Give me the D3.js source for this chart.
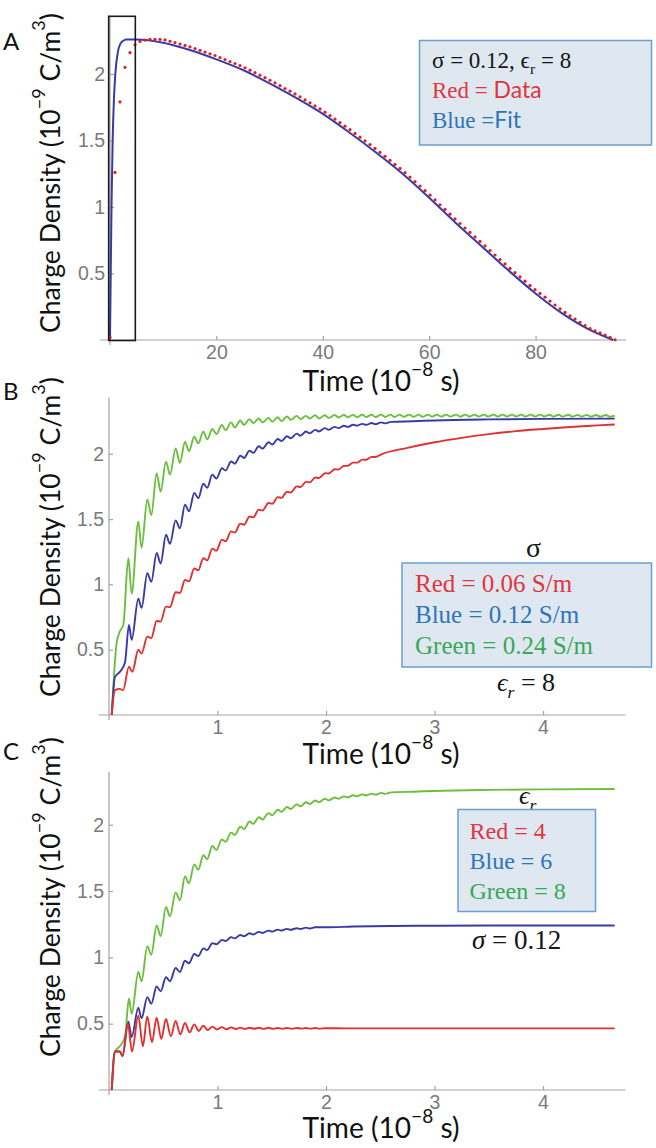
<!DOCTYPE html>
<html><head><meta charset="utf-8">
<script src="https://cdn.jsdelivr.net/npm/d3@7"></script>
<style>body{margin:0;background:#fff}svg{display:block}</style>
</head><body><svg id="c" width="656" height="1148"></svg>
<script>
// ---------------- DATA ----------------
const tickA_x = [20, 40, 60, 80];
const tickA_y = [0.5, 1, 1.5, 2];
const tickBC_x = [1, 2, 3, 4];
const tickBC_y = [0.5, 1, 1.5, 2];

// Panel A: fit (blue line)
const fitA_t = [0, 0.15, 0.3, 0.5, 0.75, 1, 1.5, 2, 2.5, 3, 5, 10, 15, 20, 25, 30, 35, 40, 45, 50, 55, 60, 65, 70, 75, 80, 85, 90, 94.6];
const fitA_v = [0, 0.55, 1.05, 1.5, 1.82, 2.0, 2.17, 2.23, 2.25, 2.26, 2.26, 2.235, 2.18, 2.11, 2.03, 1.93, 1.82, 1.70, 1.56, 1.41, 1.25, 1.07, 0.88, 0.70, 0.52, 0.35, 0.20, 0.08, 0];
// Panel A: data (red dots), sampled every dataA_dt
const dataA_dt = 0.94;
const dataA_v = [0.02, 1.26, 1.79, 2.05, 2.16, 2.22, 2.245, 2.255, 2.26, 2.26, 2.26,
  2.256, 2.246, 2.236, 2.225, 2.215, 2.204, 2.191, 2.178, 2.165, 2.152, 2.139,
  2.124, 2.109, 2.094, 2.079, 2.064, 2.047, 2.029, 2.010, 1.991, 1.972,
  1.953, 1.933, 1.912, 1.891, 1.871, 1.850, 1.828, 1.805, 1.783, 1.760, 1.737,
  1.713, 1.687, 1.661, 1.634, 1.608, 1.581, 1.553, 1.525, 1.497, 1.469, 1.440,
  1.411, 1.381, 1.351, 1.320, 1.290, 1.258, 1.225, 1.191, 1.157, 1.123,
  1.089, 1.053, 1.017, 0.982, 0.946, 0.910, 0.876, 0.842, 0.809, 0.775, 0.741,
  0.707, 0.673, 0.639, 0.605, 0.572, 0.538, 0.506, 0.474, 0.442, 0.410, 0.378,
  0.350, 0.322, 0.293, 0.263, 0.234, 0.207, 0.182, 0.158, 0.133, 0.109, 0.086, 0.069, 0.053, 0.036, 0.020, 0.002];

// Panel B (eps_r = 8): [time, density]
const sigma024 = [[0.025,0],[0.07,0.55],[0.10,0.64],[0.132,0.69],[0.178,1.20],[0.209,0.93],[0.27,1.48],[0.30,1.28],[0.353,1.65],[0.39,1.53],[0.439,1.85],[0.476,1.71],[0.525,1.94],[0.562,1.84],[0.614,2.04],[0.654,1.93],[0.70,2.09],[0.737,2.02],[0.786,2.13],[0.823,2.08],[0.869,2.17],[0.905,2.11],[0.952,2.19],[0.99,2.15],[1.04,2.22],[1.075,2.18],[1.125,2.24],[1.16,2.20],[1.21,2.255],[1.245,2.22],[1.295,2.265],[1.33,2.235],[1.38,2.27],[1.415,2.24],[1.47,2.275],[1.505,2.245],[1.555,2.28],[1.59,2.25],[1.64,2.285],[1.675,2.26],[1.73,2.29],[1.765,2.265],[1.815,2.29],[1.85,2.27],[1.90,2.295],[1.935,2.27],[1.99,2.295],[2.025,2.275],[2.08,2.297],[2.115,2.278],
  [2.165,2.298],[2.2,2.28],[2.25,2.298],[2.285,2.28],[2.335,2.299],[2.37,2.281],[2.42,2.299],[2.455,2.281],[2.51,2.3],[2.545,2.282],[2.595,2.3],[2.63,2.282],[2.68,2.3],[2.715,2.283],[2.77,2.3],[2.805,2.283],[2.855,2.3],[2.89,2.283],[2.94,2.3],[2.975,2.284],[3.025,2.3],[3.06,2.284],[3.11,2.3],[3.145,2.284],[3.2,2.3],[3.235,2.284],[3.285,2.3],[3.32,2.285],[3.37,2.3],[3.405,2.285],[3.455,2.3],[3.49,2.285],[3.545,2.3],[3.58,2.285],[3.63,2.3],[3.665,2.285],[3.715,2.3],[3.75,2.285],[3.80,2.3],[3.835,2.285],[3.89,2.3],[3.925,2.285],[3.975,2.3],[4.01,2.285],[4.06,2.299],[4.095,2.284],[4.145,2.299],[4.18,2.284],[4.235,2.299],[4.27,2.284],[4.32,2.298],[4.355,2.284],[4.405,2.298],[4.44,2.284],[4.49,2.297],[4.525,2.283],[4.58,2.297],[4.615,2.283],[4.66,2.292]];
const sigma012 = [[0.025,0],[0.055,0.29],[0.10,0.33],[0.147,0.40],[0.184,0.69],[0.209,0.575],[0.27,0.89],[0.30,0.82],[0.353,1.085],[0.39,1.02],[0.439,1.24],[0.476,1.16],[0.525,1.38],[0.562,1.31],[0.614,1.49],[0.654,1.43],[0.70,1.61],[0.737,1.56],[0.786,1.70],[0.823,1.66],[0.869,1.77],[0.905,1.74],[0.952,1.84],[0.99,1.81],[1.04,1.889],[1.075,1.872],[1.125,1.941],[1.16,1.924],[1.21,1.985],[1.245,1.968],[1.295,2.024],[1.33,2.007],[1.38,2.057],[1.415,2.04],[1.47,2.088],[1.505,2.071],[1.555,2.113],[1.59,2.097],[1.64,2.134],[1.675,2.119],[1.73,2.154],[1.765,2.139],[1.815,2.17],[1.85,2.156],[1.90,2.183],[1.935,2.171],[1.99,2.196],[2.025,2.184],[2.08,2.206],[2.115,2.196],[2.165,2.214],[2.2,2.206],[2.25,2.222],[2.285,2.215],[2.335,2.229],[2.37,2.221],[2.42,2.235],[2.455,2.227],[2.51,2.24],[2.545,2.233],[2.6,2.244],[2.8,2.249],[3.0,2.255],[3.5,2.263],[4.0,2.267],[4.66,2.269]];
const sigma006 = [[0.025,0],[0.055,0.19],[0.10,0.20],[0.13,0.19],[0.184,0.37],[0.215,0.33],[0.27,0.50],[0.30,0.47],[0.353,0.60],[0.39,0.59],[0.439,0.72],[0.476,0.715],[0.525,0.83],[0.562,0.825],[0.614,0.94],[0.654,0.935],[0.70,1.034],[0.737,1.023],[0.786,1.122],[0.823,1.108],[0.869,1.2],[0.905,1.184],[0.952,1.274],[0.99,1.258],[1.04,1.343],[1.075,1.33],[1.125,1.406],[1.16,1.396],[1.21,1.465],[1.245,1.457],[1.295,1.52],[1.33,1.513],[1.38,1.572],[1.415,1.566],[1.47,1.623],[1.505,1.617],[1.555,1.668],[1.59,1.662],[1.64,1.709],[1.675,1.704],[1.73,1.75],[1.765,1.745],[1.815,1.785],[1.85,1.781],[1.90,1.818],[1.935,1.815],[1.99,1.851],[2.025,1.849],[2.08,1.881],[2.115,1.88],[2.165,1.907],[2.2,1.908],[2.25,1.932],[2.285,1.932],[2.335,1.955],[2.37,1.954],[2.42,1.976],[2.455,1.975],[2.51,1.996],[2.75,2.045],[3.0,2.088],[3.25,2.122],[3.5,2.15],[3.75,2.173],[4.0,2.19],[4.25,2.205],[4.5,2.217],[4.66,2.224]];

// Panel C (sigma = 0.12): eps_r = 8 is the same run as sigma012 above
const eps8 = sigma012;
const eps6 = [[0.025,0],[0.055,0.29],[0.10,0.29],[0.125,0.255],[0.178,0.515],[0.209,0.40],[0.27,0.62],[0.30,0.54],[0.353,0.70],[0.39,0.65],[0.439,0.78],[0.476,0.745],[0.525,0.85],[0.562,0.82],[0.614,0.92],[0.654,0.89],[0.70,0.975],[0.737,0.955],[0.786,1.025],[0.823,1.01],[0.869,1.068],[0.905,1.055],[0.952,1.107],[0.99,1.099],[1.04,1.132],[1.075,1.123],[1.125,1.153],[1.16,1.143],[1.21,1.169],[1.245,1.159],[1.295,1.182],[1.33,1.173],[1.38,1.192],[1.415,1.184],[1.47,1.202],[1.505,1.194],[1.555,1.209],[1.59,1.202],[1.64,1.215],[1.675,1.208],[1.73,1.22],[1.765,1.214],[1.815,1.224],[1.85,1.218],[1.90,1.227],[2.0,1.227],[2.25,1.233],[2.6,1.237],[3.0,1.239],[3.5,1.24],[4.0,1.24],[4.66,1.24]];
const eps4 = [[0.025,0],[0.055,0.29],[0.10,0.29],[0.125,0.26],[0.174,0.50],[0.212,0.29],[0.27,0.56],[0.312,0.33],[0.353,0.555],[0.396,0.36],[0.439,0.545],[0.482,0.385],[0.525,0.535],[0.57,0.405],[0.614,0.52],[0.657,0.42],[0.70,0.505],[0.743,0.435],[0.786,0.495],[0.828,0.445],[0.869,0.485],[0.91,0.452],[0.952,0.478],[0.996,0.456],[1.04,0.474],[1.083,0.458],[1.125,0.472],[1.168,0.46],[1.21,0.47],[1.253,0.461],[1.295,0.469],[1.34,0.462],[1.38,0.469],[1.425,0.461],[1.47,0.469],[1.51,0.461],[1.555,0.468],[1.6,0.462],[1.64,0.468],[1.685,0.462],[1.73,0.468],[1.77,0.463],[1.815,0.467],[1.86,0.463],[1.9,0.467],[1.945,0.463],[1.99,0.466],[2.2,0.465],[3.0,0.465],[4.0,0.465],[4.66,0.465]];

// ---------------- STYLE / LAYOUT ----------------
const COL = {red:'#e3302f', blue:'#3a3aa6', green:'#6cbf3e', dots:'#dc2028',
  txtRed:'#e0353f', txtBlue:'#2e75b6', txtGreen:'#36a857', axis:'#a3a3a3', tick:'#7a7a7a'};
const SANS = 'Lato, "Open Sans", sans-serif';
const SERIF = '"Liberation Serif", "DejaVu Serif", serif';
const layout = {
  A:{xd:[0,97],   xr:[110,626],   yd:[0,2.43], yr:[340,16.8],  letterY:50,  ylabCY:173, xlabY:391},
  B:{xd:[0,4.76], xr:[109,625.5], yd:[0,2.43], yr:[715,397.6], letterY:400, ylabCY:537, xlabY:764},
  C:{xd:[0,4.76], xr:[109,625.5], yd:[0,2.40], yr:[1090,771.7],letterY:760, ylabCY:897, xlabY:1138}
};

const svg = d3.select('#c');
svg.append('rect').attr('width',656).attr('height',1148).attr('fill','#fff');

function rich(g, x, y, parts, base){
  const t = g.append('text').attr('x',x).attr('y',y)
    .attr('font-size',base.size).attr('font-family',base.family).attr('fill',base.fill||'#151515');
  if(base.anchor) t.attr('text-anchor',base.anchor);
  let shift = 0;
  parts.forEach(p=>{
    const s = t.append('tspan').text(p.t);
    const target = p.sub ? base.size*0.28 : p.sup ? -base.size*0.55 : 0;
    if(target!==shift){ s.attr('dy', target-shift); shift = target; }
    if(p.sub||p.sup) s.attr('font-size', base.size*0.68);
    if(p.fill) s.attr('fill',p.fill);
    if(p.italic) s.attr('font-style','italic');
    if(p.family) s.attr('font-family',p.family);
  });
  return t;
}
function fitRich(g, x, y, parts, base, target){
  let t = rich(g, x, y, parts, base);
  const len = t.node().getComputedTextLength();
  t.remove();
  const b2 = Object.assign({}, base, {size: base.size*target/len});
  return rich(g, x, y, parts, b2);
}

function panel(key){
  const L = layout[key];
  const x = d3.scaleLinear(L.xd, L.xr);
  const y = d3.scaleLinear(L.yd, L.yr);
  const g = svg.append('g');
  g.append('line').attr('x1',L.xr[0]-10).attr('x2',L.xr[1]).attr('y1',y(0)).attr('y2',y(0))
    .attr('stroke',COL.axis).attr('stroke-width',1.2);
  g.append('line').attr('x1',x(0)).attr('x2',x(0)).attr('y1',y(0)+5).attr('y2',L.yr[1])
    .attr('stroke',COL.axis).attr('stroke-width',1.2);
  const xt = key==='A'?tickA_x:tickBC_x, yt = key==='A'?tickA_y:tickBC_y;
  const fmt = d3.format('~g');
  const xa = g.append('g').attr('transform',`translate(0,${y(0)})`)
    .call(d3.axisBottom(x).tickValues(xt).tickSizeInner(-4).tickSizeOuter(0).tickPadding(5).tickFormat(fmt));
  const ya = g.append('g').attr('transform',`translate(${x(0)},0)`)
    .call(d3.axisLeft(y).tickValues(yt).tickSizeInner(-4).tickSizeOuter(0).tickPadding(5).tickFormat(fmt));
  [xa,ya].forEach(a=>{
    a.select('.domain').remove();
    a.selectAll('line').attr('stroke',COL.axis).attr('stroke-width',1.2);
    a.selectAll('text').attr('fill',COL.tick).attr('font-size',19.5).attr('font-family','"Liberation Sans", Arial, sans-serif');
  });
  g.append('text').attr('x',3).attr('y',L.letterY).text(key)
    .attr('font-family',SANS).attr('font-size',24).attr('fill','#111');
  const yl = g.append('g').attr('transform',`translate(60,${L.ylabCY}) rotate(-90)`);
  fitRich(yl, 0, 0, [{t:'Charge Density (10'},{t:'\u22129',sup:true},{t:' C/m'},{t:'3',sup:true},{t:')'}],
    {size:24, family:SANS, anchor:'middle', fill:'#111'}, 320);
  fitRich(g, 381, L.xlabY, [{t:'Time (10'},{t:'\u22128',sup:true},{t:' s)'}],
    {size:24, family:SANS, anchor:'middle', fill:'#111'}, 157);
  return {g, x, y};
}

const line = (x,y)=>d3.line().x(d=>x(d[0])).y(d=>y(d[1])).curve(d3.curveMonotoneX);

// ---- Panel A ----
{
  const {g,x,y} = panel('A');
  const fit = fitA_t.map((t,i)=>[t, fitA_v[i]]);
  g.append('path').datum(fit).attr('d', line(x,y)).attr('fill','none')
    .attr('stroke',COL.blue).attr('stroke-width',2);
  g.selectAll('circle.d').data(dataA_v.map((v,i)=>[i*dataA_dt, v])).join('circle')
    .attr('cx',d=>x(d[0])).attr('cy',d=>y(d[1])).attr('r',1.6).attr('fill',COL.dots);
  // zoom window rectangle (time 0 - 4.76, the range of panels B and C)
  g.append('rect').attr('x',x(-0.25)).attr('y',y(2.43)-0.5)
    .attr('width',x(4.76)-x(-0.25)).attr('height',y(0)-y(2.43)+1)
    .attr('fill','none').attr('stroke','#1a1a1a').attr('stroke-width',1.6);
  g.append('rect').attr('x',419.5).attr('y',40.5).attr('width',232).attr('height',104.5)
    .attr('fill','#dfe8f0').attr('stroke','#6a9fd2').attr('stroke-width',1.5);
  rich(g, 432, 68, [{t:'\u03c3 = 0.12, \u03f5'},{t:'r',sub:true},{t:' = 8'}], {size:23, family:SERIF, fill:'#151515'});
  rich(g, 432, 98, [{t:'Red = '},{t:'Data',family:SANS}], {size:23, family:SERIF, fill:COL.txtRed});
  rich(g, 432, 128, [{t:'Blue ='},{t:'Fit',family:SANS}], {size:23, family:SERIF, fill:COL.txtBlue});
}

// ---- Panel B ----
{
  const {g,x,y} = panel('B');
  [[sigma024,COL.green],[sigma012,COL.blue],[sigma006,COL.red]].forEach(([s,c])=>{
    g.append('path').datum(s).attr('d', line(x,y)).attr('fill','none').attr('stroke',c).attr('stroke-width',1.9);
  });
  rich(g, 533.5, 557, [{t:'\u03c3'}], {size:28, family:SERIF, anchor:'middle', fill:'#151515'});
  g.append('rect').attr('x',402).attr('y',563).attr('width',249.5).attr('height',104)
    .attr('fill','#dfe8f0').attr('stroke','#6a9fd2').attr('stroke-width',1.5);
  rich(g, 415, 592, [{t:'Red = 0.06 S/m'}], {size:25, family:SERIF, fill:COL.txtRed});
  rich(g, 415, 623, [{t:'Blue = 0.12 S/m'}], {size:25, family:SERIF, fill:COL.txtBlue});
  rich(g, 415, 653.5, [{t:'Green = 0.24 S/m'}], {size:25, family:SERIF, fill:COL.txtGreen});
  rich(g, 497, 691, [{t:'\u03f5',italic:true},{t:'r',sub:true,italic:true},{t:' = 8'}], {size:26, family:SERIF, fill:'#151515'});
}

// ---- Panel C ----
{
  const {g,x,y} = panel('C');
  [[eps8,COL.green],[eps6,COL.blue],[eps4,COL.red]].forEach(([s,c])=>{
    g.append('path').datum(s).attr('d', line(x,y)).attr('fill','none').attr('stroke',c).attr('stroke-width',1.9);
  });
  rich(g, 519, 804, [{t:'\u03f5',italic:true},{t:'r',sub:true,italic:true}], {size:26, family:SERIF, fill:'#151515'});
  g.append('rect').attr('x',458).attr('y',809.5).attr('width',137.5).attr('height',102)
    .attr('fill','#dfe8f0').attr('stroke','#6a9fd2').attr('stroke-width',1.5);
  rich(g, 469.5, 838.5, [{t:'Red = 4'}], {size:24, family:SERIF, fill:COL.txtRed});
  rich(g, 469.5, 869, [{t:'Blue = 6'}], {size:24, family:SERIF, fill:COL.txtBlue});
  rich(g, 469.5, 898.5, [{t:'Green = 8'}], {size:24, family:SERIF, fill:COL.txtGreen});
  rich(g, 472, 949, [{t:'\u03c3',italic:true},{t:' = 0.12'}], {size:27, family:SERIF, fill:'#151515'});
}
</script></body></html>
